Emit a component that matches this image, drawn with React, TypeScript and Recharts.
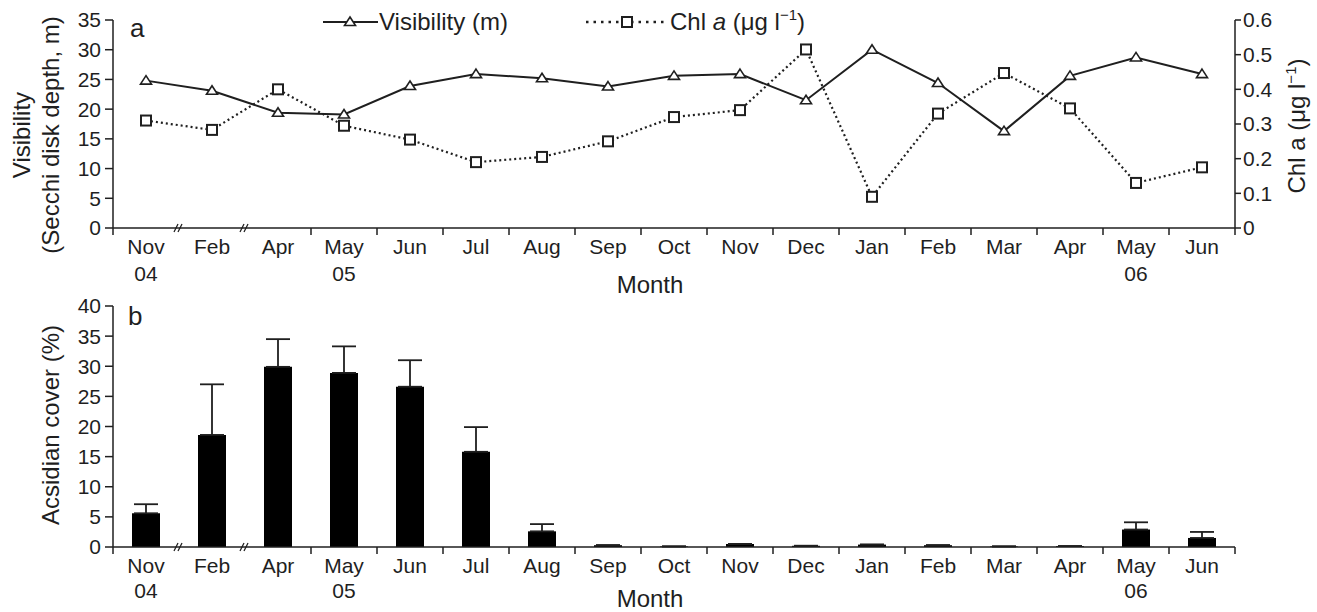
import { ComposedChart, Line, Bar, ErrorBar, XAxis, YAxis, Legend, Label } from "recharts";

const months = ["Nov", "Feb", "Apr", "May", "Jun", "Jul", "Aug", "Sep", "Oct", "Nov", "Dec", "Jan", "Feb", "Mar", "Apr", "May", "Jun"];
const years = ["04", "", "", "05", "", "", "", "", "", "", "", "", "", "", "", "06", ""];
// boundaries drawn as axis breaks (//) instead of tick marks
const breakTicks = [1, 2];

const visibility = [24.8, 23.1, 19.4, 19.1, 23.9, 25.9, 25.2, 23.8, 25.6, 25.9, 21.5, 30.0, 24.4, 16.3, 25.6, 28.7, 25.9];
const chlA = [0.31, 0.283, 0.4, 0.295, 0.255, 0.19, 0.205, 0.25, 0.32, 0.34, 0.515, 0.09, 0.33, 0.447, 0.345, 0.13, 0.175];
const cover = [5.6, 18.6, 29.9, 28.9, 26.6, 15.8, 2.6, 0.3, 0.1, 0.5, 0.2, 0.4, 0.3, 0.1, 0.15, 2.9, 1.5];
const coverErr = [1.5, 8.4, 4.6, 4.4, 4.4, 4.1, 1.2, 0, 0, 0, 0, 0, 0, 0, 0, 1.2, 1.0];

const visTicks = [0, 5, 10, 15, 20, 25, 30, 35];
const chlTicks = [0, 0.1, 0.2, 0.3, 0.4, 0.5, 0.6];
const coverTicks = [0, 5, 10, 15, 20, 25, 30, 35, 40];

const FONT = "'Liberation Sans', Arial, Helvetica, sans-serif";
const INK = "#1f1f1f";
const W = 1317;
const LEFT_W = 113;
const RIGHT_W = 82;
const HALF = (W - LEFT_W - RIGHT_W) / months.length / 2;
const BOTTOM_TOP = 280;

const rows = months.map((m, i) => ({
  x: i + 0.5,
  month: m,
  vis: visibility[i],
  chl: chlA[i],
  cover: cover[i],
  err: [0, coverErr[i]],
}));
const xTicks = Array.from({ length: months.length + 1 }, (_, i) => i);

const axisStyle = { stroke: INK, strokeWidth: 1.5 };
const tickFont = { fontSize: 21, fill: INK, fontFamily: FONT };

const monthTick = (lineGap: number) => (props: any) => {
  const { x, y, payload } = props;
  const i = payload.value as number;
  return (
    <g>
      {breakTicks.includes(i) ? (
        <g stroke={INK} strokeWidth={1.3}>
          <line x1={x - 5} y1={y + 4} x2={x - 1} y2={y - 4} />
          <line x1={x - 1} y1={y + 4} x2={x + 3} y2={y - 4} />
        </g>
      ) : (
        <line x1={x} y1={y} x2={x} y2={y + 7} stroke={INK} strokeWidth={1.5} />
      )}
      {i < months.length && (
        <text x={x + HALF} y={y + 26} textAnchor="middle" {...tickFont}>
          {months[i]}
        </text>
      )}
      {i < months.length && years[i] && (
        <text x={x + HALF} y={y + 26 + lineGap} textAnchor="middle" {...tickFont}>
          {years[i]}
        </text>
      )}
    </g>
  );
};

const renderTriangle = (p: any) => (
  <path
    key={p.index}
    d={`M${p.cx},${p.cy - 5} L${p.cx + 5.5},${p.cy + 3.5} L${p.cx - 5.5},${p.cy + 3.5} Z`}
    fill="#fff"
    stroke={INK}
    strokeWidth={1.6}
  />
);

const renderSquare = (p: any) => (
  <rect key={p.index} x={p.cx - 5} y={p.cy - 5} width={10} height={10} fill="#fff" stroke={INK} strokeWidth={2} />
);

const renderLegend = () => (
  <svg width={520} height={34} style={{ overflow: "visible", fontFamily: FONT }}>
    <line x1={5} y1={19} x2={60} y2={19} stroke={INK} strokeWidth={2} />
    {renderTriangle({ cx: 32, cy: 19, index: "lt" })}
    <text x={61} y={27} fontSize={24} fill={INK}>
      Visibility (m)
    </text>
    <line x1={268} y1={19} x2={350} y2={19} stroke={INK} strokeWidth={2.5} strokeDasharray="2.5 5" />
    {renderSquare({ cx: 309, cy: 19, index: "ls" })}
    <text x={352} y={27} fontSize={24} fill={INK}>
      Chl <tspan fontStyle="italic">a</tspan> (μg l
      <tspan dy={-10} fontSize={15}>−1</tspan>
      <tspan dy={10}>)</tspan>
    </text>
  </svg>
);

const monthLabel = (baseline: number) => () => (
  <text x={650} y={baseline} textAnchor="middle" fontSize={24} fill={INK} fontFamily={FONT}>
    Month
  </text>
);

const leftLabelTop = () => (
  <g fontFamily={FONT} fill={INK} fontSize={24} textAnchor="middle">
    <text x={30} y={135} transform="rotate(-90 30 135)">Visibility</text>
    <text x={59} y={135} transform="rotate(-90 59 135)">(Secchi disk depth, m)</text>
    <text x={130} y={37} textAnchor="start" fontSize={26}>a</text>
  </g>
);

const rightLabelTop = () => (
  <text x={1305} y={126} transform="rotate(-90 1305 126)" textAnchor="middle" fontSize={24} fill={INK} fontFamily={FONT}>
    Chl a (μg l<tspan dy={-9} fontSize={15}>−1</tspan>
    <tspan dy={9}>)</tspan>
  </text>
);

const leftLabelBottom = () => (
  <g fontFamily={FONT} fill={INK} fontSize={24} textAnchor="middle">
    <text x={59} y={425 - BOTTOM_TOP} transform={`rotate(-90 59 ${425 - BOTTOM_TOP})`}>Acsidian cover (%)</text>
    <text x={128} y={325 - BOTTOM_TOP} textAnchor="start" fontSize={26}>b</text>
  </g>
);

export default function App() {
  return (
    <div style={{ position: "absolute", left: 0, top: 0, width: W, height: 612, background: "#fff", fontFamily: FONT }}>
      <div style={{ position: "absolute", left: 0, top: 0 }}>
        <ComposedChart width={W} height={300} data={rows} margin={{ top: 20, right: 0, bottom: 0, left: 0 }}>
          <XAxis
            dataKey="x"
            type="number"
            domain={[0, months.length]}
            ticks={xTicks}
            interval={0}
            tick={monthTick(27)}
            tickLine={false}
            tickSize={0}
            tickMargin={0}
            height={72}
            axisLine={axisStyle}
          >
            <Label content={monthLabel(293)} />
          </XAxis>
          <YAxis
            yAxisId="left"
            domain={[0, 35]}
            ticks={visTicks}
            interval={0}
            width={LEFT_W}
            tick={tickFont}
            tickSize={8}
            tickMargin={4}
            tickLine={axisStyle}
            axisLine={axisStyle}
          >
            <Label content={leftLabelTop} />
          </YAxis>
          <YAxis
            yAxisId="right"
            orientation="right"
            domain={[0, 0.6]}
            ticks={chlTicks}
            interval={0}
            width={RIGHT_W}
            tick={tickFont}
            tickFormatter={(v: number) => (v === 0 ? "0" : v.toFixed(1))}
            tickSize={6}
            tickMargin={2}
            tickLine={axisStyle}
            axisLine={axisStyle}
          >
            <Label content={rightLabelTop} />
          </YAxis>
          <Legend
            layout="horizontal"
            verticalAlign="middle"
            align="center"
            wrapperStyle={{ top: 3, left: 318, width: 520, height: 34 }}
            content={renderLegend}
          />
          <Line
            yAxisId="left"
            type="linear"
            dataKey="vis"
            stroke={INK}
            strokeWidth={2}
            dot={renderTriangle}
            activeDot={false}
            isAnimationActive={false}
          />
          <Line
            yAxisId="right"
            type="linear"
            dataKey="chl"
            stroke={INK}
            strokeWidth={2.2}
            strokeDasharray="2 3"
            dot={renderSquare}
            activeDot={false}
            isAnimationActive={false}
          />
        </ComposedChart>
      </div>
      <div style={{ position: "absolute", left: 0, top: BOTTOM_TOP }}>
        <ComposedChart width={W} height={612 - BOTTOM_TOP} data={rows} margin={{ top: 306 - BOTTOM_TOP, right: RIGHT_W, bottom: 0, left: 0 }}>
          <XAxis
            dataKey="x"
            type="number"
            domain={[0, months.length]}
            ticks={xTicks}
            interval={0}
            tick={monthTick(25)}
            tickLine={false}
            tickSize={0}
            tickMargin={0}
            height={65}
            axisLine={axisStyle}
          >
            <Label content={monthLabel(607 - BOTTOM_TOP)} />
          </XAxis>
          <YAxis
            domain={[0, 40]}
            ticks={coverTicks}
            interval={0}
            width={LEFT_W}
            tick={tickFont}
            tickSize={8}
            tickMargin={4}
            tickLine={axisStyle}
            axisLine={axisStyle}
          >
            <Label content={leftLabelBottom} />
          </YAxis>
          <Bar dataKey="cover" fill="#000" barSize={28} isAnimationActive={false}>
            <ErrorBar dataKey="err" width={12} stroke={INK} strokeWidth={1.8} direction="y" isAnimationActive={false} />
          </Bar>
        </ComposedChart>
      </div>
    </div>
  );
}
